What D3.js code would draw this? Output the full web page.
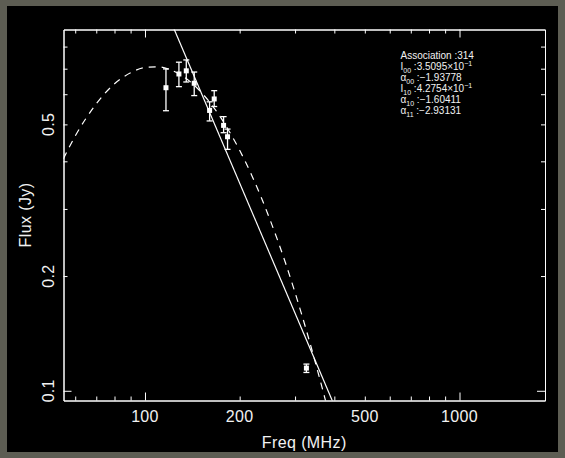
<!DOCTYPE html>
<html>
<head>
<meta charset="utf-8">
<script src="https://cdn.jsdelivr.net/npm/d3@7"></script>
<style>
html,body{margin:0;padding:0;background:#5d5d53;}
svg{display:block;}
text{font-family:"Liberation Sans",Arial,sans-serif;fill:#f2f2f2;}
</style>
</head>
<body>
<script>
// ---- data ----
const freqs   = [116.6, 128.2, 135.3, 143.4, 160.5, 166.0, 177.8, 183.0, 326.0];
const fluxes  = [0.624, 0.678, 0.691, 0.641, 0.544, 0.583, 0.497, 0.464, 0.1147];
const errLow  = [0.543, 0.628, 0.646, 0.595, 0.5105, 0.557, 0.4755, 0.430, 0.1117];
const errHigh = [0.699, 0.728, 0.738, 0.686, 0.573, 0.613, 0.524, 0.486, 0.1175];

// solid (straight power-law) line, endpoints
const solidFreq = [120, 400];
const solidFlux = [0.944, 0.0915];

// dashed (curved) line, sampled from the plot
const dashFreq = [55, 60, 70, 80, 90, 100, 110, 120, 130, 140, 150, 160, 180, 200, 220, 250, 280, 300, 330, 360, 380];
const dashFlux = [0.406, 0.466, 0.566, 0.639, 0.683, 0.705, 0.708, 0.696, 0.674, 0.645, 0.610, 0.574, 0.499, 0.4275, 0.363, 0.2805, 0.216, 0.181, 0.139, 0.107, 0.0904];

// axis ticks
const xMinorTicks = [60, 70, 80, 90, 200, 300, 400, 500, 600, 700, 800, 900];
const xMajorTicks = [100, 1000];
const xTickLabels = [100, 200, 500, 1000];
const yMinorTicks = [0.2, 0.3, 0.4, 0.5, 0.6, 0.7, 0.8];
const yMajorTicks = [0.1];
const yTickLabels = [0.1, 0.2, 0.5];

// legend
const legendTitle = "Association :314";
const legendSymbols = ["I", "α", "I", "α", "α"];
const legendSubs    = ["00", "00", "10", "10", "11"];
const legendValues  = [":3.5095×10", ":−1.93778", ":4.2754×10", ":−1.60411", ":−2.93131"];
const legendSups    = ["−1", "", "−1", "", ""];

// ---- drawing ----
const W = 565, H = 458;
const svg = d3.select("body").append("svg").attr("width", W).attr("height", H);
svg.append("rect").attr("x", 7).attr("y", 6).attr("width", 551).attr("height", 446).attr("fill", "#000");

const L = 63.5, R = 545, T = 29.5, B = 400.5;
const x = d3.scaleLog().domain([55.07, 1870]).range([L, R]);
const y = d3.scaleLog().domain([0.0943, 0.887]).range([B, T]);

svg.append("defs").append("clipPath").attr("id", "clip")
  .append("rect").attr("x", L).attr("y", T).attr("width", R - L).attr("height", B - T);

// frame + ticks via d3 axes
function addAxis(gen, tx, ty, vals, size) {
  const g = svg.append("g").attr("transform", `translate(${tx},${ty})`)
    .call(gen.tickValues(vals).tickSize(size).tickSizeOuter(0).tickFormat(""));
  g.selectAll("path,line").attr("stroke", "#fff").attr("stroke-width", 1);
  return g;
}
addAxis(d3.axisBottom(x), 0, B, xMinorTicks, -4);
addAxis(d3.axisBottom(x), 0, B, xMajorTicks, -8);
addAxis(d3.axisTop(x), 0, T, xMinorTicks, -4);
addAxis(d3.axisTop(x), 0, T, xMajorTicks, -8);
addAxis(d3.axisLeft(y), L, 0, yMinorTicks, -4);
addAxis(d3.axisLeft(y), L, 0, yMajorTicks, -8);
addAxis(d3.axisRight(y), R, 0, yMinorTicks, -4);
addAxis(d3.axisRight(y), R, 0, yMajorTicks, -8);

// tick labels
svg.append("g").selectAll("text").data(xTickLabels).join("text")
  .attr("x", d => x(d)).attr("y", 421.5).attr("text-anchor", "middle")
  .attr("font-size", 16).attr("letter-spacing", 0.3).text(d => d);
svg.append("g").selectAll("text").data(yTickLabels).join("text")
  .attr("transform", d => `translate(53.5,${y(d)}) rotate(-90)`)
  .attr("text-anchor", "middle").attr("font-size", 16).attr("letter-spacing", 0.3).text(d => d);

// axis titles
svg.append("text").attr("x", (L + R) / 2).attr("y", 448).attr("text-anchor", "middle")
  .attr("font-size", 16).attr("letter-spacing", 0.4).text("Freq (MHz)");
svg.append("text").attr("transform", `translate(31,${(T + B) / 2}) rotate(-90)`)
  .attr("text-anchor", "middle").attr("font-size", 16).attr("letter-spacing", 0.4).text("Flux (Jy)");

// lines
const plot = svg.append("g").attr("clip-path", "url(#clip)");
const line = d3.line().x(d => x(d[0])).y(d => y(d[1])).curve(d3.curveMonotoneX);
plot.append("path").datum(solidFreq.map((f, i) => [f, solidFlux[i]]))
  .attr("d", d3.line().x(d => x(d[0])).y(d => y(d[1])))
  .attr("fill", "none").attr("stroke", "#fff").attr("stroke-width", 1.2);
plot.append("path").datum(dashFreq.map((f, i) => [f, dashFlux[i]]))
  .attr("d", line).attr("fill", "none").attr("stroke", "#fff")
  .attr("stroke-width", 1.2).attr("stroke-dasharray", "7,6");

// error bars and points
const pts = freqs.map((f, i) => ({ f, s: fluxes[i], lo: errLow[i], hi: errHigh[i] }));
const eg = svg.append("g");
eg.selectAll("line.v").data(pts).join("line").attr("class", "v")
  .attr("x1", d => x(d.f)).attr("x2", d => x(d.f))
  .attr("y1", d => y(d.lo)).attr("y2", d => y(d.hi))
  .attr("stroke", "#fff").attr("stroke-width", 1.3);
eg.selectAll("line.ct").data(pts).join("line").attr("class", "ct")
  .attr("x1", d => x(d.f) - 3).attr("x2", d => x(d.f) + 3)
  .attr("y1", d => y(d.hi)).attr("y2", d => y(d.hi))
  .attr("stroke", "#fff").attr("stroke-width", 1.3);
eg.selectAll("line.cb").data(pts).join("line").attr("class", "cb")
  .attr("x1", d => x(d.f) - 3).attr("x2", d => x(d.f) + 3)
  .attr("y1", d => y(d.lo)).attr("y2", d => y(d.lo))
  .attr("stroke", "#fff").attr("stroke-width", 1.3);
eg.selectAll("rect").data(pts).join("rect")
  .attr("x", d => x(d.f) - 2.5).attr("y", d => y(d.s) - 2.5)
  .attr("width", 5).attr("height", 5).attr("fill", "#fff");

// legend
const lx = 400.5, ly0 = 59, dy = 11;
svg.append("text").attr("x", lx).attr("y", ly0).attr("font-size", 10).text(legendTitle);
legendSymbols.forEach((sym, i) => {
  const t = svg.append("text").attr("x", lx).attr("y", ly0 + dy * (i + 1)).attr("font-size", 10);
  t.append("tspan").text(sym);
  t.append("tspan").attr("font-size", 7).attr("dy", 2.5).text(legendSubs[i]);
  t.append("tspan").attr("dy", -2.5).text(" " + legendValues[i]);
  if (legendSups[i]) t.append("tspan").attr("font-size", 7).attr("dy", -4).text(legendSups[i]);
});
</script>
</body>
</html>
